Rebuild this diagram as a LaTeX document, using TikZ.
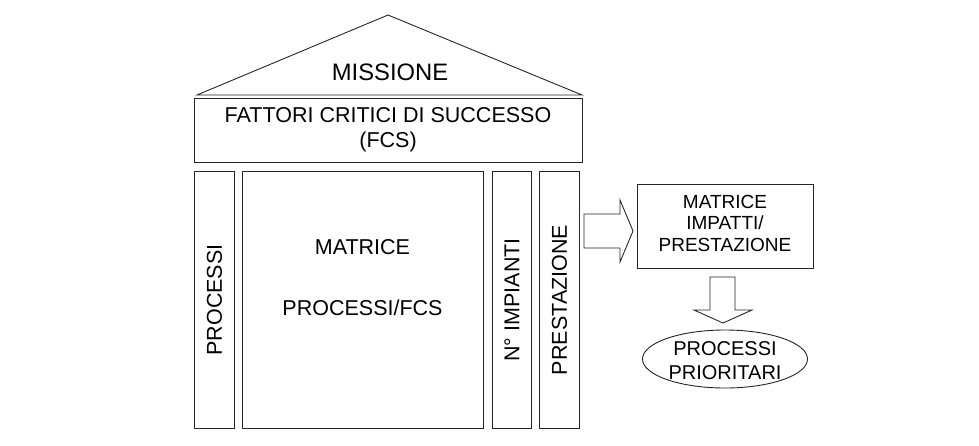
\documentclass[tikz,border=0pt]{standalone}
\usepackage{fontspec}
\setmainfont{Liberation Sans}
\usetikzlibrary{shapes.geometric}
\begin{document}
\begin{tikzpicture}[x=1pt,y=-1pt,
  ln/.style={draw=black!85, line width=0.9pt},
  txt/.style={font=\fontsize{21.5}{25}\selectfont, inner sep=0pt, align=center},
  box/.style={ln, inner sep=0pt, anchor=north west}]
\useasboundingbox (0,0) rectangle (979,445);
% roof
\coordinate (rl) at (197,95);
\coordinate (rr) at (582,95);
\coordinate (rt) at (388,15);
\draw[ln, line join=miter] (rl) -- (rt) -- (rr) -- cycle;
\node[txt, font=\fontsize{23.8}{27}\selectfont] (mission) at (390,72) {MISSIONE};
% FCS box
\node[box, minimum width=388pt, minimum height=64pt] (fcs) at (194,98) {};
\node[txt, font=\fontsize{21.5}{25}\selectfont] (fcst) at (388,130) {FATTORI CRITICI DI SUCCESSO\\(FCS)};
% columns
\node[box, minimum width=40pt, minimum height=257pt] (proc) at (194,171) {};
\node[txt, rotate=90] at (proc.center) {PROCESSI};
\node[box, minimum width=241pt, minimum height=257pt] (mat) at (242,171) {};
\node[txt] (matA) at (362.5,247) {MATRICE};
\node[txt] (matB) at (362.5,308) {PROCESSI/FCS};
\node[box, minimum width=39pt, minimum height=257pt] (imp) at (492,171) {};
\node[txt, rotate=90] at (imp.center) {N° IMPIANTI};
\node[box, minimum width=40pt, minimum height=257pt] (pre) at (539,171) {};
\node[txt, rotate=90] at (pre.center) {PRESTAZIONE};
% right box
\node[box, minimum width=176pt, minimum height=84pt] (mip) at (637,184) {};
\node[txt, font=\fontsize{19}{21.5}\selectfont] at (725,223) {MATRICE\\IMPATTI/\\PRESTAZIONE};
% ellipse
\node[ln, ellipse, minimum width=165pt, minimum height=58pt, inner sep=0pt] (pp) at (725,359) {};
\node[txt, font=\fontsize{20}{24}\selectfont] at (725,361) {PROCESSI\\PRIORITARI};
% block arrow right
\draw[ln, line join=miter] (584,214) -- (620,214) -- (620,200) -- (633,231) -- (620,262) -- (620,248) -- (584,248) -- cycle;
% block arrow down
\draw[ln, line join=miter] (710,277) -- (735,277) -- (735,310) -- (752,310) -- (723,323) -- (694,310) -- (710,310) -- cycle;
\end{tikzpicture}
\end{document}
